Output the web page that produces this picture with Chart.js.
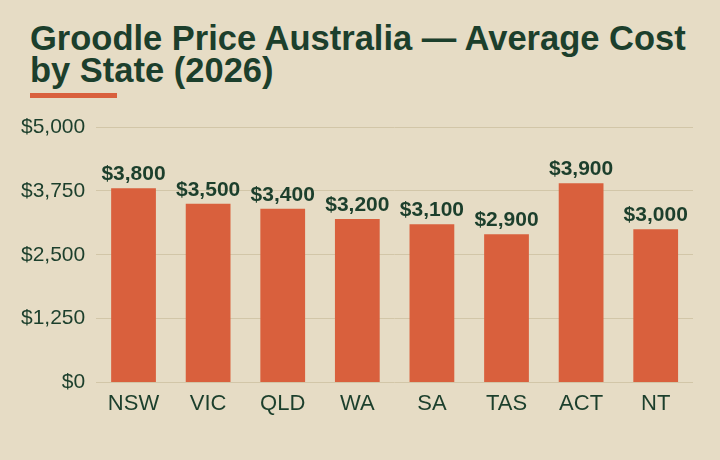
<!DOCTYPE html>
<html>
<head>
<meta charset="utf-8">
<script src="https://cdn.jsdelivr.net/npm/chart.js@4.4.1/dist/chart.umd.min.js"></script>
<style>
  html, body { margin: 0; padding: 0; background: #e6dcc5; }
  #wrap { position: relative; width: 720px; height: 460px; overflow: hidden; background: #e6dcc5; }
  #title { position: absolute; left: 30px; top: 22px; margin: 0; font-family: "Liberation Sans", Arial, sans-serif;
           font-weight: bold; font-size: 34.5px; line-height: 32px; color: #1c3f2c; white-space: nowrap; }
  #rule { position: absolute; left: 30px; top: 93px; width: 87px; height: 5px; background: #d9603d; }
  #c { position: absolute; left: 0; top: 0; }
</style>
</head>
<body>
<div id="wrap">
  <h1 id="title">Groodle Price Australia — Average Cost<br>by State (2026)</h1>
  <div id="rule"></div>
  <canvas id="c" width="720" height="460"></canvas>
</div>
<script>
const categories = ["NSW", "VIC", "QLD", "WA", "SA", "TAS", "ACT", "NT"];
const prices = [3800, 3500, 3400, 3200, 3100, 2900, 3900, 3000];
const yTicks = [0, 1250, 2500, 3750, 5000];

const textColor = "#1c3f2c";
const barColor = "#d9603d";
const gridColor = "#d2c6a8";
const fontFamily = '"Liberation Sans", Arial, sans-serif';

const fmt = v => "$" + v.toLocaleString("en-US");

const valueLabels = {
  id: "valueLabels",
  afterDatasetsDraw(chart) {
    const ctx = chart.ctx;
    const meta = chart.getDatasetMeta(0);
    ctx.save();
    ctx.fillStyle = textColor;
    ctx.font = "bold 21px " + fontFamily;
    ctx.textAlign = "center";
    ctx.textBaseline = "alphabetic";
    meta.data.forEach((bar, i) => {
      ctx.fillText(fmt(chart.data.datasets[0].data[i]), bar.x, bar.y - 8);
    });
    ctx.restore();
  }
};

new Chart(document.getElementById("c"), {
  type: "bar",
  data: {
    labels: categories,
    datasets: [{
      data: prices,
      backgroundColor: barColor,
      borderWidth: 0,
      barPercentage: 0.6,
      categoryPercentage: 1.0
    }]
  },
  options: {
    responsive: false,
    animation: false,
    devicePixelRatio: 1,
    layout: { padding: { top: 127, left: 10, right: 27, bottom: 35 } },
    plugins: {
      legend: { display: false },
      tooltip: { enabled: false },
      title: { display: false }
    },
    scales: {
      x: {
        grid: { display: false, drawTicks: false },
        border: { display: false },
        ticks: { color: textColor, font: { family: fontFamily, size: 22 }, padding: 8 }
      },
      y: {
        min: 0,
        max: 5000,
        afterBuildTicks(axis) { axis.ticks = yTicks.map(v => ({ value: v })); },
        grid: { color: gridColor, lineWidth: 1, drawTicks: false },
        border: { display: false },
        ticks: { color: textColor, font: { family: fontFamily, size: 21 }, padding: 11, callback: v => fmt(v) }
      }
    }
  },
  plugins: [valueLabels]
});
</script>
</body>
</html>
